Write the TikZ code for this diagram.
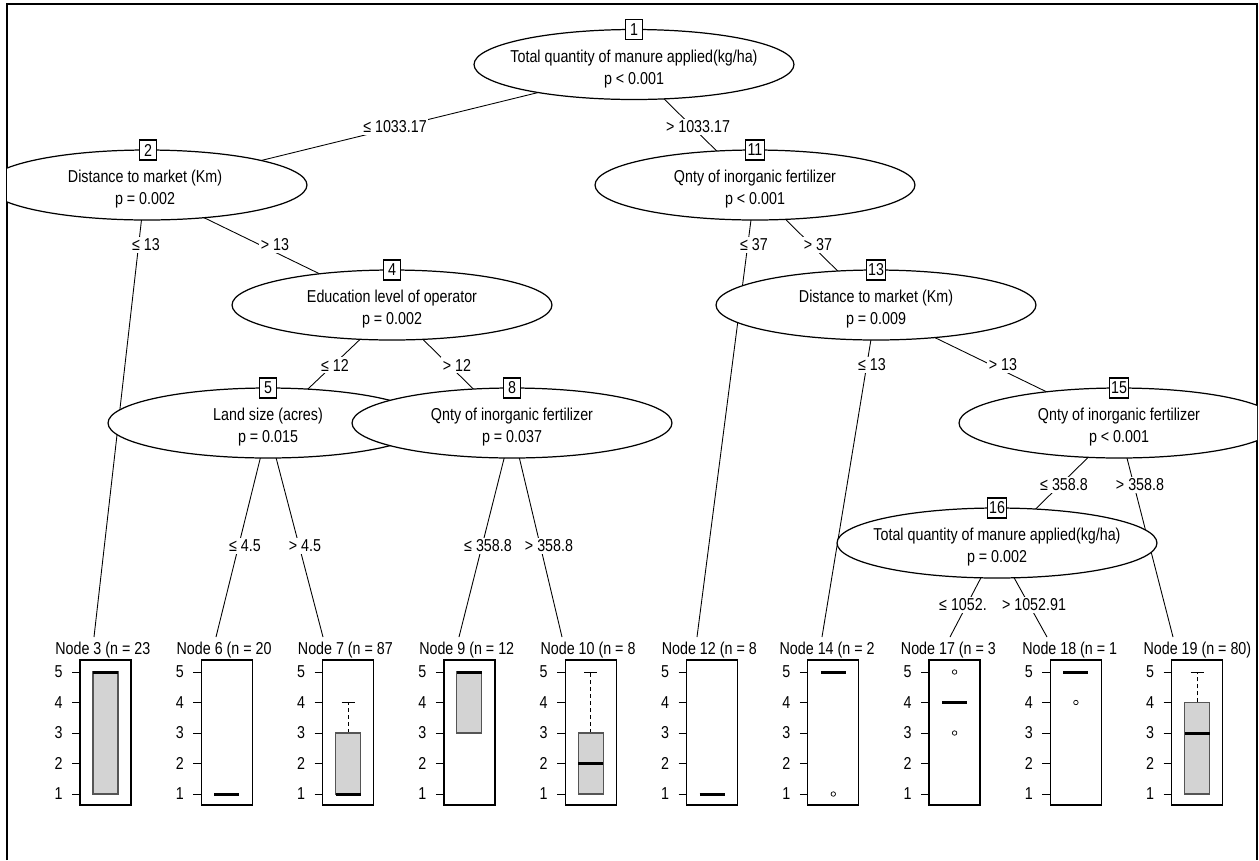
\documentclass[tikz,border=0pt]{standalone}
\usepackage{fontspec}
\setmainfont{Liberation Sans}[FakeStretch=0.83]
\usetikzlibrary{backgrounds}
\definecolor{boxgray}{HTML}{D3D3D3}
\definecolor{boxline}{HTML}{555555}
\tikzset{every picture/.append style={font=\fontsize{9.8}{13}\selectfont}}
\tikzset{
  splitell/.style={draw,fill=white,line width=0.7pt},
  splittxt/.style={align=center,inner sep=0pt},
  idbox/.style={draw,fill=white,line width=0.6pt,inner sep=1pt,minimum height=0.4cm,minimum width=0.34cm},
  brlab/.style={fill=white,inner sep=1pt},
  edge/.style={line width=0.5pt},
  panel/.style={draw,line width=0.7pt},
  iqr/.style={draw=boxline,fill=boxgray,line width=0.6pt},
  med/.style={line width=1.7pt},
  whisk/.style={line width=0.5pt,dash pattern=on 2.3pt off 1.7pt},
}

\begin{document}
\begin{tikzpicture}[x=0.02cm,y=-0.02cm]
    \useasboundingbox (0,0) rectangle (1259,860);
    \draw[line width=1.2pt] (7,860) -- (7,4) -- (1257,4) -- (1257,860);
    \begin{scope}
      \clip (7,4) rectangle (1257,860);
      % inner nodes
      \draw[splitell] (634,64.5) ellipse [x radius=3.2cm, y radius=0.7cm];
      \node[splittxt] (n1) at (634,69) {Total quantity of manure applied(kg/ha)\\p < 0.001};
      \node[idbox] (b1) at (634,29.5) {1};
      \draw[splitell] (147,185) ellipse [x radius=3.2cm, y radius=0.7cm];
      \node[splittxt] (n2) at (145,189) {Distance to market (Km)\\p = 0.002};
      \node[idbox] (b2) at (148,150) {2};
      \draw[splitell] (755,185) ellipse [x radius=3.2cm, y radius=0.7cm];
      \node[splittxt] (n11) at (755,189) {Qnty of inorganic fertilizer\\p < 0.001};
      \node[idbox] (b11) at (755,150) {11};
      \draw[splitell] (392,305) ellipse [x radius=3.2cm, y radius=0.7cm];
      \node[splittxt] (n4) at (392,309) {Education level of operator\\p = 0.002};
      \node[idbox] (b4) at (392,270) {4};
      \draw[splitell] (876,305) ellipse [x radius=3.2cm, y radius=0.7cm];
      \node[splittxt] (n13) at (876,309) {Distance to market (Km)\\p = 0.009};
      \node[idbox] (b13) at (876,270) {13};
      \draw[splitell] (268,423) ellipse [x radius=3.2cm, y radius=0.7cm];
      \node[splittxt] (n5) at (268,427) {Land size (acres)\\p = 0.015};
      \node[idbox] (b5) at (268,388) {5};
      \draw[splitell] (512,423) ellipse [x radius=3.2cm, y radius=0.7cm];
      \node[splittxt] (n8) at (512,427) {Qnty of inorganic fertilizer\\p = 0.037};
      \node[idbox] (b8) at (512,388) {8};
      \draw[splitell] (1119,423) ellipse [x radius=3.2cm, y radius=0.7cm];
      \node[splittxt] (n15) at (1119,427) {Qnty of inorganic fertilizer\\p < 0.001};
      \node[idbox] (b15) at (1119,388) {15};
      \draw[splitell] (997,543) ellipse [x radius=3.2cm, y radius=0.7cm];
      \node[splittxt] (n16) at (997,547) {Total quantity of manure applied(kg/ha)\\p = 0.002};
      \node[idbox] (b16) at (997,508) {16};
    \end{scope}

    % terminal panels
    \foreach \L/\k/\txt/\off in {80/3/{Node 3 (n = 23}/25, 201.3/6/{Node 6 (n = 20}/25,
        322.6/7/{Node 7 (n = 87}/25, 443.9/9/{Node 9 (n = 12}/25, 565.2/10/{Node 10 (n = 8}/25,
        686.5/12/{Node 12 (n = 8}/25, 807.8/14/{Node 14 (n = 2}/28.5, 929.1/17/{Node 17 (n = 3}/28.5,
        1050.4/18/{Node 18 (n = 1}/28.5, 1171.7/19/{Node 19 (n = 80)}/28.5} {
      \draw[panel] (\L,660) rectangle ({\L+51},805);
      \node[anchor=west,inner sep=0pt] (t\k) at ({\L-\off},650) {\txt};
      \coordinate (e\k) at ({\L+0},637);
      \foreach \v in {1,...,5} {
        \pgfmathsetmacro\yy{794-30.5*(\v-1)}
        \draw[line width=0.5pt] ({\L-8},\yy) -- (\L,\yy);
        \node[inner sep=0pt] (y\k-\v) at ({\L-21.5},\yy) {\v};
      }
    }
    \coordinate (e3) at (94,637);
    \coordinate (e6) at (216,637);
    \coordinate (e7) at (323,637);
    \coordinate (e9) at (459,637);
    \coordinate (e10) at (562,637);
    \coordinate (e12) at (697,637);
    \coordinate (e14) at (822,637);
    \coordinate (e17) at (950,637);
    \coordinate (e18) at (1047,637);
    \coordinate (e19) at (1173,637);

    % boxplots
    \draw[iqr] (93,672) rectangle (118,794);
    \draw[med] (93,672) -- (118,672);
    \draw[med] (214.3,794) -- (239.3,794);
    \draw[whisk] (348.1,733) -- (348.1,702.5);
    \draw[line width=0.5pt] (341.6,702.5) -- (354.6,702.5);
    \draw[iqr] (335.6,733) rectangle (360.6,794);
    \draw[med] (335.6,794) -- (360.6,794);
    \draw[iqr] (456.9,672) rectangle (481.9,733);
    \draw[med] (456.9,672) -- (481.9,672);
    \draw[whisk] (590.7,733) -- (590.7,672);
    \draw[line width=0.5pt] (584.2,672) -- (597.2,672);
    \draw[iqr] (578.2,733) rectangle (603.2,794);
    \draw[med] (578.2,763.5) -- (603.2,763.5);
    \draw[med] (699.5,794) -- (724.5,794);
    \draw[med] (820.8,672) -- (845.8,672);
    \draw[line width=0.4pt] (833.3,794) circle [radius=0.045cm];
    \draw[med] (942.1,702.5) -- (967.1,702.5);
    \draw[line width=0.4pt] (954.6,672) circle [radius=0.045cm];
    \draw[line width=0.4pt] (954.6,733) circle [radius=0.045cm];
    \draw[med] (1063.4,672) -- (1088.4,672);
    \draw[line width=0.4pt] (1075.9,702.5) circle [radius=0.045cm];
    \draw[whisk] (1197.2,702.5) -- (1197.2,672);
    \draw[line width=0.5pt] (1190.7,672) -- (1203.7,672);
    \draw[iqr] (1184.7,702.5) rectangle (1209.7,794);
    \draw[med] (1184.7,733) -- (1209.7,733);

    % branches
    \begin{scope}[on background layer]
      \draw[edge] (n1.center) -- (n2.center);
      \draw[edge] (n1.center) -- (n11.center);
      \draw[edge] (n2.center) -- (e3);
      \draw[edge] (n2.center) -- (n4.center);
      \draw[edge] (n4.center) -- (n5.center);
      \draw[edge] (n4.center) -- (n8.center);
      \draw[edge] (n5.center) -- (e6);
      \draw[edge] (n5.center) -- (e7);
      \draw[edge] (n8.center) -- (e9);
      \draw[edge] (n8.center) -- (e10);
      \draw[edge] (n11.center) -- (e12);
      \draw[edge] (n11.center) -- (n13.center);
      \draw[edge] (n13.center) -- (e14);
      \draw[edge] (n13.center) -- (n15.center);
      \draw[edge] (n15.center) -- (n16.center);
      \draw[edge] (n15.center) -- (e19);
      \draw[edge] (n16.center) -- (e17);
      \draw[edge] (n16.center) -- (e18);
    \end{scope}
    \node[brlab] (l2) at (395,127) {≤ 1033.17};
    \node[brlab] (l11) at (698,127) {> 1033.17};
    \node[brlab] (l3) at (146,245) {≤ 13};
    \node[brlab] (l4) at (275,245) {> 13};
    \node[brlab] (l5) at (335,365) {≤ 12};
    \node[brlab] (l8) at (457,365) {> 12};
    \node[brlab] (l6) at (245,546) {≤ 4.5};
    \node[brlab] (l7) at (305,546) {> 4.5};
    \node[brlab] (l9) at (488,546) {≤ 358.8};
    \node[brlab] (l10) at (549,546) {> 358.8};
    \node[brlab] (l12) at (754,245) {≤ 37};
    \node[brlab] (l13) at (818,245) {> 37};
    \node[brlab] (l14) at (872,365) {≤ 13};
    \node[brlab] (l15) at (1003,365) {> 13};
    \node[brlab] (l16) at (1064,485) {≤ 358.8};
    \node[brlab] (l19) at (1140,485) {> 358.8};
    \node[brlab] (l17) at (963,605) {≤ 1052.};
    \node[brlab] (l18) at (1034,605) {> 1052.91};
  \end{tikzpicture}
\end{document}
